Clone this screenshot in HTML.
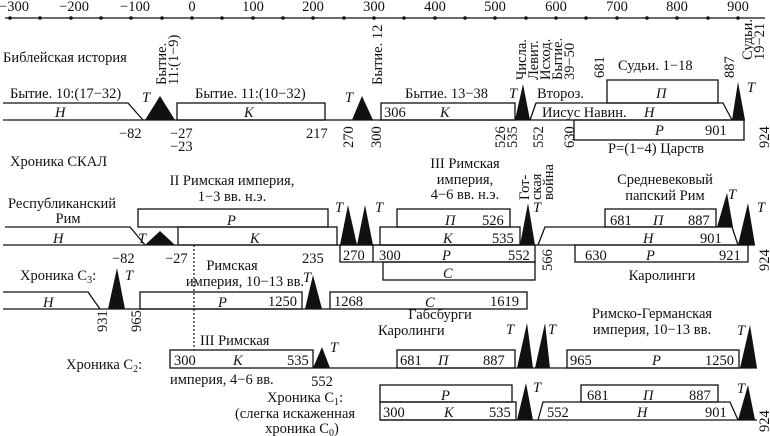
<!DOCTYPE html>
<html><head><meta charset="utf-8"><style>
body{margin:0;background:#fff}
svg{display:block}
text{font-family:"Liberation Serif","DejaVu Serif",serif;font-size:14.5px;fill:#111}
.i{font-style:italic}
</style></head><body>
<svg width="770" height="436" viewBox="0 0 770 436">
<g stroke="#111" stroke-width="1.3" fill="none">
<line x1="5" y1="18" x2="765" y2="18"/>
</g>
<g fill="#111">
<circle cx="10" cy="18" r="1.8"/><circle cx="40" cy="18" r="1.8"/><circle cx="71" cy="18" r="1.8"/><circle cx="101" cy="18" r="1.8"/><circle cx="131" cy="18" r="1.8"/><circle cx="162" cy="18" r="1.8"/><circle cx="192" cy="18" r="1.8"/><circle cx="222" cy="18" r="1.8"/><circle cx="253" cy="18" r="1.8"/><circle cx="283" cy="18" r="1.8"/><circle cx="313" cy="18" r="1.8"/><circle cx="344" cy="18" r="1.8"/><circle cx="374" cy="18" r="1.8"/><circle cx="404" cy="18" r="1.8"/><circle cx="435" cy="18" r="1.8"/><circle cx="465" cy="18" r="1.8"/><circle cx="495" cy="18" r="1.8"/><circle cx="526" cy="18" r="1.8"/><circle cx="556" cy="18" r="1.8"/><circle cx="586" cy="18" r="1.8"/><circle cx="617" cy="18" r="1.8"/><circle cx="647" cy="18" r="1.8"/><circle cx="677" cy="18" r="1.8"/><circle cx="708" cy="18" r="1.8"/><circle cx="738" cy="18" r="1.8"/>
</g>
<g text-anchor="middle">
<text x="14" y="11">−300</text><text x="74" y="11">−200</text><text x="135" y="11">−100</text><text x="192" y="11">0</text><text x="253" y="11">100</text><text x="313" y="11">200</text><text x="374" y="11">300</text><text x="435" y="11">400</text><text x="495" y="11">500</text><text x="556" y="11">600</text><text x="617" y="11">700</text><text x="677" y="11">800</text><text x="738" y="11">900</text>
</g>

<g stroke="#111" stroke-width="1.3" fill="none">
<line x1="3" y1="120" x2="745" y2="120"/>
<polyline points="3,103 128,103 143,120"/>
<rect x="177" y="103" width="148" height="17"/>
<rect x="381" y="103" width="134" height="17"/>
<polyline points="530,120 536,103 723,103 732,120"/>
<rect x="607" y="80" width="111" height="23"/>
<rect x="574" y="120" width="170" height="20"/>
<line x1="3" y1="245" x2="755" y2="245"/>
<polyline points="5,227 130,227 145,245"/>
<rect x="138" y="209" width="190" height="18"/>
<rect x="178" y="227" width="159" height="18"/>
<rect x="397" y="209" width="113" height="18"/>
<rect x="380" y="227" width="140" height="18"/>
<rect x="340" y="245" width="195" height="17"/>
<line x1="373" y1="245" x2="373" y2="262"/>
<rect x="383" y="262" width="152" height="18"/>
<polyline points="538,245 545,227 732,227 738,245"/>
<rect x="605" y="209" width="111" height="18"/>
<rect x="575" y="245" width="173" height="17"/>
<line x1="3" y1="309" x2="330" y2="309"/>
<polyline points="3,292 88,292 100,309"/>
<rect x="140" y="292" width="162" height="17"/>
<rect x="330" y="292" width="197" height="17"/>
<line x1="313" y1="368" x2="757" y2="368"/>
<rect x="170" y="350" width="143" height="18"/>
<rect x="397" y="350" width="118" height="18"/>
<rect x="567" y="350" width="172" height="18"/>
<line x1="380" y1="420" x2="757" y2="420"/>
<rect x="380" y="385" width="132" height="17"/>
<rect x="380" y="402" width="136" height="18"/>
<polyline points="538,420 543,402 730,402 738,420"/>
<rect x="581" y="385" width="137" height="17"/>
</g>
<line x1="194" y1="245" x2="194" y2="350" stroke="#111" stroke-width="1.2" stroke-dasharray="2,2"/>

<g fill="#111">
<polygon points="145,120 175,120 160,96"/>
<polygon points="352,120 373,120 362,96"/>
<polygon points="515,120 530,120 523,84"/>
<polygon points="732,120 745,120 738,82"/>
<polygon points="145,245 175,245 160,231"/>
<polygon points="340,245 357,245 348,205"/>
<polygon points="357,245 373,245 365,205"/>
<polygon points="520,245 535,245 528,203"/>
<polygon points="717,227 733,227 727,193"/>
<polygon points="738,245 755,245 748,203"/>
<polygon points="108,309 125,309 117,268"/>
<polygon points="305,309 322,309 313,275"/>
<polygon points="313,368 330,368 322,347"/>
<polygon points="517,368 533,368 527,323"/>
<polygon points="535,368 550,368 545,323"/>
<polygon points="740,368 757,368 750,325"/>
<polygon points="517,420 533,420 526,383"/>
<polygon points="738,420 755,420 748,385"/>
</g>

<text x="3" y="62">Библейская история</text>
<text x="10" y="98">Бытие. 10:(17−32)</text>
<text x="195" y="98">Бытие. 11:(10−32)</text>
<text x="405" y="98">Бытие. 13−38</text>
<text x="537" y="98">Второз.</text>
<text x="618" y="70">Судьи. 1−18</text>
<text x="608" y="153">P=(1−4)  Царств</text>
<text class="i" x="55" y="117">H</text>
<text class="i" x="244" y="117">K</text>
<text x="384" y="117">306</text>
<text class="i" x="440" y="117">K</text>
<text x="542" y="117">Иисус  Навин.</text>
<text class="i" x="644" y="117">H</text>
<text class="i" x="656" y="98">П</text>
<text class="i" x="655" y="135">P</text>
<text x="705" y="135">901</text>
<text class="i" x="142" y="102">T</text>
<text class="i" x="345" y="102">T</text>
<text class="i" x="509" y="98">T</text>
<text class="i" x="747" y="92">T</text>
<text x="119" y="138">−82</text>
<text x="170" y="138">−27</text>
<text x="170" y="151">−23</text>
<text x="306" y="138">217</text>
<g transform="rotate(-90)">
<text x="-85" y="166">Бытие.</text>
<text x="-85" y="178">11:(1−9)</text>
<text x="-85" y="382">Бытие. 12</text>
<text x="-148" y="353">270</text>
<text x="-148" y="381">300</text>
<text x="-80" y="526">Числа.</text>
<text x="-80" y="538">Левит.</text>
<text x="-80" y="550">Исход.</text>
<text x="-80" y="562">Бытие.</text>
<text x="-80" y="574">39−50</text>
<text x="-148" y="505">526</text>
<text x="-148" y="517">535</text>
<text x="-148" y="543">552</text>
<text x="-148" y="574">630</text>
<text x="-78" y="604">681</text>
<text x="-78" y="734">887</text>
<text x="-60" y="752">Судьи.</text>
<text x="-60" y="764">19−21</text>
<text x="-148" y="769">924</text>
<text x="-271" y="552">566</text>
<text x="-271" y="769">924</text>
<text x="-200" y="529">Гот-</text>
<text x="-200" y="541">ская</text>
<text x="-200" y="553">война</text>
<text x="-332" y="107">931</text>
<text x="-332" y="141">965</text>
<text x="-432" y="769">924</text>
</g>

<text x="10" y="166">Хроника СКАЛ</text>
<text text-anchor="middle" x="232" y="185">II Римская империя,</text>
<text text-anchor="middle" x="232" y="201">1−3 вв. н.э.</text>
<text x="8" y="208">Республиканский</text>
<text text-anchor="middle" x="68" y="223">Рим</text>
<text text-anchor="middle" x="465" y="168">III Римская</text>
<text text-anchor="middle" x="465" y="184">империя,</text>
<text text-anchor="middle" x="465" y="199">4−6 вв. н.э.</text>
<text text-anchor="middle" x="665" y="184">Средневековый</text>
<text text-anchor="middle" x="665" y="200">папский Рим</text>
<text text-anchor="middle" x="662" y="280">Каролинги</text>
<text class="i" x="53" y="243">H</text>
<text class="i" x="227" y="225">P</text>
<text class="i" x="250" y="243">K</text>
<text class="i" x="138" y="243">T</text>
<text class="i" x="335" y="212">T</text>
<text class="i" x="375" y="212">T</text>
<text class="i" x="533" y="212">T</text>
<text class="i" x="728" y="199">T</text>
<text class="i" x="757" y="212">T</text>
<text class="i" x="445" y="225">П</text>
<text x="482" y="225">526</text>
<text class="i" x="443" y="243">K</text>
<text x="492" y="243">535</text>
<text x="343" y="260">270</text>
<text x="379" y="260">300</text>
<text class="i" x="442" y="260">P</text>
<text x="508" y="260">552</text>
<text class="i" x="443" y="278">C</text>
<text x="610" y="225">681</text>
<text class="i" x="653" y="225">П</text>
<text x="688" y="225">887</text>
<text class="i" x="643" y="243">H</text>
<text x="700" y="243">901</text>
<text x="585" y="260">630</text>
<text class="i" x="646" y="260">P</text>
<text x="719" y="260">921</text>
<text x="112" y="263">−82</text>
<text x="165" y="263">−27</text>
<text x="302" y="263">235</text>

<text x="20" y="280">Хроника С<tspan font-size="10" dy="3">3</tspan><tspan dy="-3">:</tspan></text>
<text text-anchor="middle" x="232" y="270">Римская</text>
<text text-anchor="middle" x="245" y="286">империя, 10−13 вв.</text>
<text class="i" x="125" y="280">T</text>
<text class="i" x="303" y="282">T</text>
<text class="i" x="43" y="307">H</text>
<text class="i" x="218" y="307">P</text>
<text x="268" y="306">1250</text>
<text x="334" y="306">1268</text>
<text class="i" x="425" y="307">C</text>
<text x="490" y="306">1619</text>

<text x="200" y="345">III Римская</text>
<text x="66" y="369">Хроника С<tspan font-size="10" dy="3">2</tspan><tspan dy="-3">:</tspan></text>
<text x="170" y="384">империя, 4−6 вв.</text>
<text text-anchor="middle" x="322" y="386">552</text>
<text class="i" x="330" y="352">T</text>
<text x="174" y="365">300</text>
<text class="i" x="233" y="365">K</text>
<text x="287" y="365">535</text>
<text text-anchor="middle" x="440" y="319">Габсбурги</text>
<text x="378" y="335">Каролинги</text>
<text x="400" y="365">681</text>
<text class="i" x="438" y="365">П</text>
<text x="483" y="365">887</text>
<text class="i" x="506" y="334">T</text>
<text class="i" x="548" y="334">T</text>
<text text-anchor="middle" x="652" y="318">Римско-Германская</text>
<text text-anchor="middle" x="652" y="334">империя, 10−13 вв.</text>
<text x="570" y="365">965</text>
<text class="i" x="652" y="365">P</text>
<text x="705" y="365">1250</text>
<text class="i" x="737" y="335">T</text>

<text text-anchor="middle" x="305" y="402">Хроника С<tspan font-size="10" dy="3">1</tspan><tspan dy="-3">:</tspan></text>
<text text-anchor="middle" x="295" y="418">(слегка искаженная</text>
<text text-anchor="middle" x="302" y="433">хроника С<tspan font-size="10" dy="3">0</tspan><tspan dy="-3">)</tspan></text>
<text class="i" x="441" y="400">P</text>
<text x="383" y="417">300</text>
<text class="i" x="444" y="417">K</text>
<text x="489" y="417">535</text>
<text class="i" x="533" y="392">T</text>
<text x="547" y="417">552</text>
<text class="i" x="637" y="417">H</text>
<text x="705" y="417">901</text>
<text x="587" y="400">681</text>
<text class="i" x="643" y="400">П</text>
<text x="689" y="400">887</text>
<text class="i" x="737" y="393">T</text>
</svg>
</body></html>
